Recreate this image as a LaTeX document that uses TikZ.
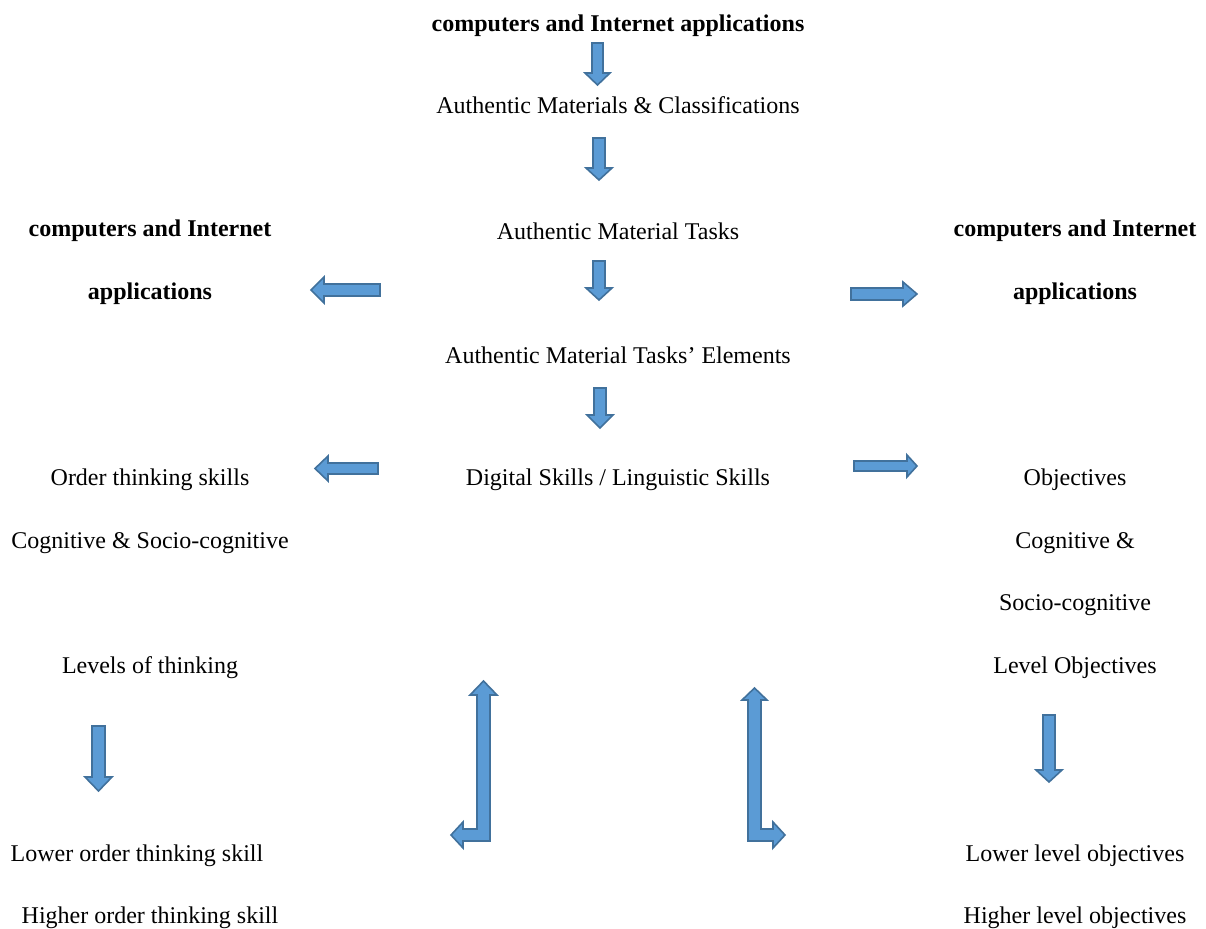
\documentclass[tikz,border=0pt]{standalone}
\usepackage{fontspec}
\setmainfont{Liberation Serif}
\definecolor{arrfill}{HTML}{5B9BD5}
\definecolor{arrline}{HTML}{41719C}
\tikzset{
  blockarrow/.style={fill=arrfill, draw=arrline, line width=1.6pt, line join=miter},
  txt/.style={inner sep=0pt, font=\fontsize{24}{28}\selectfont},
  btxt/.style={inner sep=0pt, font=\fontsize{24}{28}\selectfont\bfseries}
}
\begin{document}
\begin{tikzpicture}[x=1pt,y=-1pt]
\useasboundingbox (0,0) rectangle (1206,928);
% texts
\node[btxt] (top) at (618,26) {computers and Internet applications};
\node[txt] (amc) at (618,105) {Authentic Materials \& Classifications};
\node[txt] (amt) at (618,231) {Authentic Material Tasks};
\node[txt] (amte) at (618,355) {Authentic Material Tasks’ Elements};
\node[txt] (dsl) at (618,480) {Digital Skills / Linguistic Skills};
\node[btxt] (l1) at (150,231) {computers and Internet};
\node[btxt] (l2) at (150,294) {applications};
\node[btxt] (r1) at (1075,231) {computers and Internet};
\node[btxt] (r2) at (1075,294) {applications};
\node[txt] (ots) at (150,480) {Order thinking skills};
\node[txt] (csc) at (150,543) {Cognitive \& Socio-cognitive};
\node[txt] (lot) at (150,668) {Levels of thinking};
\node[txt] (lots) at (137,856) {Lower order thinking skill};
\node[txt] (hots) at (150,918) {Higher order thinking skill};
\node[txt] (obj) at (1075,480) {Objectives};
\node[txt] (cog) at (1075,543) {Cognitive \&};
\node[txt] (soc) at (1075,605) {Socio-cognitive};
\node[txt] (lob) at (1075,668) {Level Objectives};
\node[txt] (llo) at (1075,856) {Lower level objectives};
\node[txt] (hlo) at (1075,918) {Higher level objectives};
% vertical down arrows (centre column)
\draw[blockarrow] (592,43)--(603,43)--(603,73)--(610,73)--(597.5,85)--(585,73)--(592,73)--cycle;
\draw[blockarrow] (593,138)--(605,138)--(605,168)--(612,168)--(599,180)--(586,168)--(593,168)--cycle;
\draw[blockarrow] (593,261)--(605,261)--(605,288)--(612,288)--(599,300)--(586,288)--(593,288)--cycle;
\draw[blockarrow] (594,388)--(606,388)--(606,415)--(613,415)--(600,428)--(587,415)--(594,415)--cycle;
% side down arrows
\draw[blockarrow] (92,726)--(105,726)--(105,777)--(112,777)--(98.5,791)--(85,777)--(92,777)--cycle;
\draw[blockarrow] (1043,715)--(1055,715)--(1055,770)--(1062,770)--(1049,782)--(1036,770)--(1043,770)--cycle;
% left arrows
\draw[blockarrow] (380,284)--(380,296)--(324,296)--(324,303)--(311,290)--(324,277)--(324,284)--cycle;
\draw[blockarrow] (378,463)--(378,474)--(328,474)--(328,481)--(315,468.5)--(328,456)--(328,463)--cycle;
% right arrows
\draw[blockarrow] (851,288)--(903,288)--(903,282)--(917,294)--(903,306)--(903,300)--(851,300)--cycle;
\draw[blockarrow] (854,461)--(907,461)--(907,455)--(917,466)--(907,477)--(907,471)--(854,471)--cycle;
% bent arrows
\draw[blockarrow] (477,695)--(470,695)--(483.5,681)--(497,695)--(490,695)--(490,841)--(463,841)--(463,848)--(451,835)--(463,822)--(463,829)--(477,829)--cycle;
\draw[blockarrow] (748,700)--(742,700)--(754.5,688)--(767,700)--(761,700)--(761,829)--(773,829)--(773,822)--(785,835)--(773,848)--(773,841)--(748,841)--cycle;
\end{tikzpicture}
\end{document}
